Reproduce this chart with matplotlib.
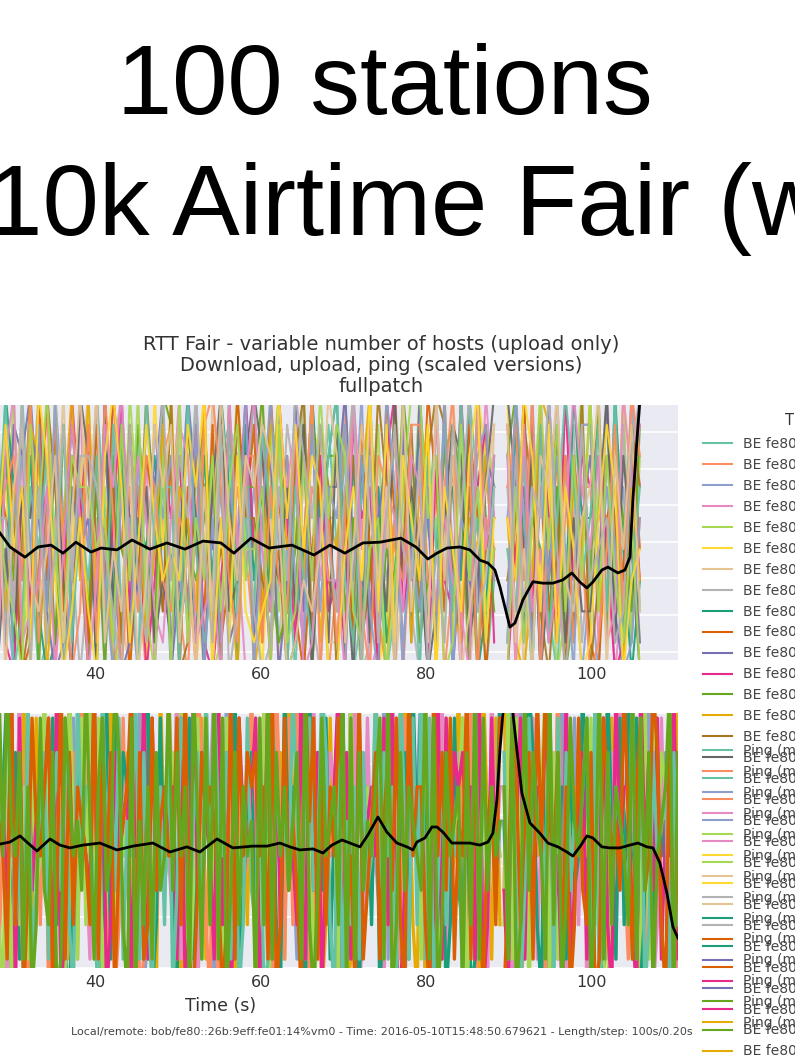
import numpy as np
import matplotlib.pyplot as plt
from matplotlib.lines import Line2D

# host colour cycle (Set2 followed by Dark2)
palette = ['#66c2a5', '#fc8d62', '#8da0cb', '#e78ac3', '#a6d854', '#ffd92f', '#e5c494', '#b3b3b3',
           '#1b9e77', '#d95f02', '#7570b3', '#e7298a', '#66a61e', '#e6ab02', '#a6761d', '#666666']

# upload throughput per host (scaled), one digit per 1 s sample, 0..9
# part before '|' ends at t=88.2 s, part after starts at t=89.8 s (no data in between)
upload_series = [
    "2817390461 7294015836 0953728146 3819062745 9261407358 4702936185 2584719603|7391820564 1837492",
    "6039281745 1846290537 4928163057 8205917364 1739482650 3917264805 7160392845|0582937146 6294815",
    "9140826375 3062819574 7281930465 0594826173 6318270945 2849163507 4093618275|5819263740 3074619",
    "3758192064 8271645039 1639482705 5917362840 0846271935 7395018264 1628407395|2946173058 8150396",
    "7025938164 4913728056 8360195427 2746801593 5182649370 0627381954 9351724086|4173850269 2683917",
    "1694072853 6350819247 2715836094 9380471526 4069153872 8153702946 3806251974|9028361547 7412960",
    "5372916048 0728354916 9146207385 6813094257 2950736481 1486925037 6274950318|3605172948 0938471",
    "8461305729 2185967340 3507942618 1629350874 7413869205 5930148762 0719382654|6257049381 4561829",
    "0583746192 9637201485 6092815473 4251739608 3628014957 9072561384 8145639027|1840736295 5729403",
    "4926051837 5401938276 1839604752 7064281395 8195720463 2618409573 3962718504|8391625074 1056384",
    "6210874953 3879520164 5274013869 0396845127 1570392846 6943257081 9518043276|2718094635 7392051",
    "3957160284 1062847395 8415926037 5728103649 4609518372 3185607924 5073294681|0462851937 6840173",
    "9081523674 7349061825 2607438519 8143570926 6931248057 7250814396 1347860952|7935416028 3917528",
    "1475829036 2618704593 9350276148 3652918407 0287463915 4836920571 6809125473|5103987264 9248063",
    "7630948215 8502396174 0746183952 9017624385 5324079186 0571396248 2798316045|3586204719 0375186",
    "2389615740 4165827309 7092854613 1485069237 9743628051 8407152936 4025871369|9647038152 2591740",
    "5813069274 9026473815 3718250946 6094137825 2859063147 9316840275 0748293516|4270815963 5829136",
    "0462718395 6739158402 8195042763 2540896317 7163284905 1592076438 8326917054|6839052714 0148297",
    "8206495137 1574829036 4930617285 7328051649 0594731826 5837209614 2619054783|2951637408 8364015",
    "3649827150 7912360485 0386947521 5871230946 9427680153 3094816527 6185320947|7082413596 4712968",
    "1957302846 3208594176 6451839207 0915372684 4608127395 8721450369 9570183624|0615948273 9273150",
    "6730281954 8461973025 2079614853 4386905172 1239584760 0463928175 3806427915|5397281640 1586034",
    "9384156027 0683247159 5914270386 8140629537 6875013249 7148536092 5193702468|8140769325 6907482",
    "4071893625 5290614837 7642083159 3759418026 2016397584 2690715843 7041859236|1726594038 3451279",
]

# ping per host (scaled), one digit per 0.5 s sample, 0..9
# part before '|' ends at t=88.9 s, part after starts at t=89.4 s
ping_series = [
    "9180372645 0829174635 7192038456 2908173546 8190273654 3918027456 0729183645 6180293754 1927038546 8039172654 2918370456 9071283564 4829103756|5302918476 7461902835 3095817264 8624091357 1573820946",
    "5302918476 7461902835 3095817264 8624091357 1573820946 6209473815 4917305628 0386257194 9547160283 2701864539 5168349720 8052617349 3746095182|9180372645 0829174635 7192038456 2908173546 8190273654",
    "3918027456 0729183645 6180293754 1927038546 8039172654 2918370456 9071283564 4829103756 5302918476 7461902835 3095817264 8624091357 1573820946|6209473815 4917305628 0386257194 9547160283 2701864539",
    "6209473815 4917305628 0386257194 9547160283 2701864539 5168349720 8052617349 3746095182 9180372645 0829174635 7192038456 2908173546 8190273654|3918027456 0729183645 6180293754 1927038546 8039172654",
    "2918370456 9071283564 4829103756 5302918476 7461902835 3095817264 8624091357 1573820946 6209473815 4917305628 0386257194 9547160283 2701864539|5168349720 8052617349 3746095182 9180372645 0829174635",
    "5168349720 8052617349 3746095182 9180372645 0829174635 7192038456 2908173546 8190273654 3918027456 0729183645 6180293754 1927038546 8039172654|2918370456 9071283564 4829103756 5302918476 7461902835",
    "7192038456 2908173546 8190273654 3918027456 0729183645 6180293754 1927038546 8039172654 2918370456 9071283564 4829103756 5302918476 7461902835|3095817264 8624091357 1573820946 6209473815 4917305628",
    "3095817264 8624091357 1573820946 6209473815 4917305628 0386257194 9547160283 2701864539 5168349720 8052617349 3746095182 9180372645 0829174635|7192038456 2908173546 8190273654 3918027456 0729183645",
    "6180293754 1927038546 8039172654 2918370456 9071283564 4829103756 5302918476 7461902835 3095817264 8624091357 1573820946 6209473815 4917305628|0386257194 9547160283 2701864539 5168349720 8052617349",
    "0386257194 9547160283 2701864539 5168349720 8052617349 3746095182 9180372645 0829174635 7192038456 2908173546 8190273654 3918027456 0729183645|6180293754 1927038546 8039172654 2918370456 9071283564",
]
ping_colors = ['#8da0cb', '#e6ab02', '#e78ac3', '#fc8d62', '#1b9e77', '#a6d854', '#e7298a',
               '#66c2a5', '#d95f02', '#66a61e']

# average upload (black)
avg_up_t = [28.53, 29.74, 31.55, 33.12, 34.69, 36.14, 37.71, 39.52, 40.72, 42.66, 44.47, 46.64,
            48.69, 50.86, 53.04, 55.21, 56.78, 58.83, 61.01, 63.78, 66.44, 68.37, 70.18, 72.35,
            74.41, 76.94, 78.75, 80.2, 81.29, 82.5, 84.06, 85.27, 86.48, 87.45, 88.29, 88.9,
            89.5, 90.1, 90.71, 91.67, 92.88, 94.09, 95.29, 96.5, 97.59, 98.55, 99.4, 100.12,
            101.21, 101.93, 103.14, 103.99, 104.59, 104.95, 105.44, 105.8, 106.1]
avg_up_v = [3.24, 2.86, 2.58, 2.86, 2.91, 2.69, 2.99, 2.72, 2.83, 2.78, 3.05, 2.80,
            2.97, 2.80, 3.02, 2.97, 2.69, 3.10, 2.83, 2.91, 2.64, 2.91, 2.69, 2.97,
            2.99, 3.10, 2.86, 2.53, 2.69, 2.83, 2.86, 2.78, 2.50, 2.42, 2.23, 1.77,
            1.22, 0.67, 0.78, 1.41, 1.91, 1.87, 1.87, 1.96, 2.15, 1.90, 1.74, 1.90,
            2.23, 2.31, 2.15, 2.23, 2.58, 4.14, 5.78, 6.88, 8.0]

# average ping (black)
avg_ping_t = [28.53, 29.74, 30.95, 31.91, 33.0, 34.57, 35.77, 36.98, 38.55, 40.6, 42.66, 44.59,
              47.0, 49.05, 51.1, 52.68, 54.73, 56.66, 59.07, 60.77, 62.33, 63.54, 64.75, 66.32,
              67.53, 68.61, 69.82, 70.79, 72.0, 72.96, 74.17, 75.25, 76.46, 77.67, 78.39, 78.87,
              79.84, 80.69, 81.29, 82.01, 83.1, 84.07, 85.27, 86.48, 87.45, 88.05, 88.53, 88.9,
              89.26, 89.8, 90.46, 90.95, 91.55, 92.52, 93.72, 94.69, 95.9, 96.98, 97.71, 98.55,
              99.4, 100.12, 101.21, 102.18, 103.38, 104.59, 105.56, 106.65, 107.37, 108.21,
              109.06, 109.79, 110.39]
avg_ping_v = [4.86, 4.94, 5.18, 4.90, 4.59, 5.06, 4.82, 4.71, 4.82, 4.90, 4.63, 4.78,
              4.90, 4.55, 4.75, 4.55, 5.06, 4.71, 4.78, 4.78, 4.90, 4.75, 4.63, 4.67,
              4.51, 4.82, 5.02, 4.90, 4.75, 5.22, 5.92, 5.33, 4.90, 4.75, 4.63, 4.94,
              5.10, 5.53, 5.53, 5.33, 4.90, 4.90, 4.90, 4.82, 4.94, 5.29, 6.59, 8.55,
              10.0, 13.0, 10.0, 8.55, 6.86, 5.69, 5.29, 4.90, 4.75, 4.55, 4.39, 4.75,
              5.18, 5.10, 4.75, 4.71, 4.71, 4.82, 4.90, 4.75, 4.71, 4.12,
              2.94, 1.61, 1.18]

n_upload_legend = 30
n_ping_legend = 14

title_lines = ['RTT Fair - variable number of hosts (upload only)',
               'Download, upload, ping (scaled versions)',
               'fullpatch']
footer = ('Local/remote: bob/fe80::26b:9eff:fe01:14%vm0 - Time: 2016-05-10T15:48:50.679621 '
          '- Length/step: 100s/0.20s')


def series(s, t_end, t_start, lo, step, dt):
    before, after = s.replace(' ', '').split('|')
    vb = [lo + int(c) * step for c in before]
    va = [lo + int(c) * step for c in after]
    tb = t_end - dt * np.arange(len(vb))[::-1]
    ta = t_start + dt * np.arange(len(va))
    t = np.concatenate([tb, [(t_end + t_start) / 2], ta])
    v = np.concatenate([vb, [np.nan], va])
    return t, v


W, H = 795, 1059
fig = plt.figure(figsize=(W / 100, H / 100), dpi=100)


def box(x0, y0, x1, y1):
    return [x0 / W, 1 - y1 / H, (x1 - x0) / W, (y1 - y0) / H]


ax1 = fig.add_axes(box(-236.3, 405, 678, 660))
ax2 = fig.add_axes(box(-236.3, 713, 678, 968))

for ax in (ax1, ax2):
    ax.set_facecolor('#EAEAF2')
    for sp in ax.spines.values():
        sp.set_visible(False)
    ax.grid(True, color='white', lw=1.1)
    ax.set_axisbelow(True)
    ax.tick_params(length=0, labelsize=11.5, labelcolor='#333333', pad=5, labelleft=False)
    ax.set_xlim(0, 110.4)
    ax.set_xticks([40, 60, 80, 100])

for i, s in enumerate(upload_series):
    t, v = series(s, 88.2, 89.8, -0.6, 0.85, 1.0)
    ax1.plot(t, v, color=palette[i % 16], lw=1.5, alpha=0.9)
ax1.plot(avg_up_t, avg_up_v, color='black', lw=2)
ax1.set_ylim(-0.23, 6.74)
ax1.set_yticks(range(7))

for i, s in enumerate(ping_series):
    t, v = series(s, 88.9, 89.4, -1.0, 1.35, 0.5)
    ax2.plot(t, v, color=ping_colors[i], lw=2.4)
ax2.plot(avg_ping_t, avg_ping_v, color='black', lw=2)
ax2.set_ylim(0, 10)
ax2.set_xlabel('Time (s)', fontsize=12.5, color='#333333', labelpad=5)

# slide heading
fig.text(385 / W, 1 - 114 / H, '100 stations', fontsize=71.5,
         family=['Liberation Sans', 'DejaVu Sans'], ha='center', va='baseline')
fig.text(-14 / W, 1 - 235 / H, '10k Airtime Fair (w', fontsize=73,
         family=['Liberation Sans', 'DejaVu Sans'], ha='left', va='baseline')

for k, line in enumerate(title_lines):
    fig.text(381 / W, 1 - (344 + 21.5 * k) / H, line, fontsize=14, color='#333333',
             ha='center', va='center')
fig.text(382 / W, 1 - 1032 / H, footer, fontsize=8, color='#444444', ha='center', va='center')

# legends (cut by the right edge of the slide)
up_handles = [Line2D([], [], color=palette[i % 16], lw=1.5) for i in range(n_upload_legend)]
up_labels = ['BE fe80::' for i in range(n_upload_legend)]
fig.legend(up_handles, up_labels, loc='upper left', bbox_to_anchor=(703 / W, 1 - 437 / H),
           frameon=False, fontsize=10, handlelength=2.1, handletextpad=0.8, labelspacing=0.5,
           borderpad=0, borderaxespad=0, labelcolor='#444444')
ping_handles = [Line2D([], [], color=palette[i % 16], lw=1.5) for i in range(n_ping_legend)]
ping_labels = ['Ping (ms) ICMP' for i in range(n_ping_legend)]
fig.legend(ping_handles, ping_labels, loc='upper left', bbox_to_anchor=(703 / W, 1 - 744 / H),
           frameon=False, fontsize=10, handlelength=2.1, handletextpad=0.8, labelspacing=0.5,
           borderpad=0, borderaxespad=0, labelcolor='#444444')
fig.text(785 / W, 1 - 420 / H, 'Throughput', fontsize=10.5, color='#333333', ha='left', va='center')

fig.savefig('out.png', dpi=100)
